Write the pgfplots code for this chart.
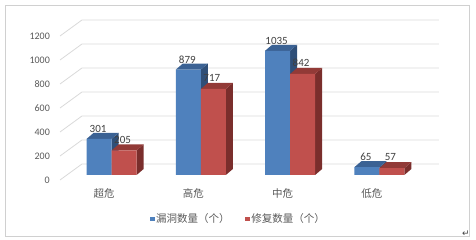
\documentclass[border=0pt]{standalone}
\usepackage{pgfplots}
\pgfplotsset{compat=1.18}
\usepackage{fontspec}
\setmainfont{Carlito}
\newfontfamily\cjk{Noto Sans CJK SC}
\definecolor{bfront}{HTML}{4F81BD}
\definecolor{btop}{HTML}{3B6294}
\definecolor{bside}{HTML}{2F4F78}
\definecolor{rfront}{HTML}{C0504D}
\definecolor{rtop}{HTML}{923A37}
\definecolor{rside}{HTML}{7A2E2C}
\definecolor{gridc}{HTML}{D9D9D9}
\definecolor{labc}{HTML}{595959}
\definecolor{datac}{HTML}{404040}
\definecolor{framec}{HTML}{D0D0D0}

% 3D extras (side and top faces) of a bar: #1 left x, #2 right x, #3 value, #4 top colour, #5 side colour
\newcommand{\barfaces}[5]{%
  \pgfmathsetmacro\xl{#1}\pgfmathsetmacro\xr{#2}%
  \pgfmathsetmacro\xld{#1+0.0784}\pgfmathsetmacro\xrd{#2+0.0784}%
  \pgfmathsetmacro\vt{#3+50}%
  \edef\tmp{%
    \noexpand\addplot[fill=#5,draw=none,forget plot] coordinates {(\xr,0) (\xrd,50) (\xrd,\vt) (\xr,#3)};
    \noexpand\addplot[fill=#4,draw=none,forget plot] coordinates {(\xl,#3) (\xr,#3) (\xrd,\vt) (\xld,\vt)};
  }\tmp}
\newcommand{\gridl}[1]{%
  \pgfmathsetmacro\gb{#1+91.7}\pgfmathsetmacro\gf{#1-41.7}%
  \edef\tmp{%
    \noexpand\addplot[gridc,line width=0.8pt,forget plot] coordinates {(-0.578,\gf) (-0.332,\gb) (3.668,\gb)};
  }\tmp}
\newcommand{\ylab}[2]{\node[anchor=east, text=labc, font=\fontsize{10}{11}\selectfont, inner sep=0pt] at (axis cs:-0.69,#2) {#1};}

\begin{document}
\begin{tikzpicture}
\begin{axis}[
  scale only axis, width=476pt, height=240pt,
  xmin=-1.2504, xmax=4.0829, ymin=-541.67, ymax=1458.33,
  hide axis, clip=false,
  /pgf/number format/1000 sep={},
  /pgf/number format/assume math mode=true,
  legend image code/.code={\fill[#1] (0pt,-2.4pt) rectangle (4.8pt,2.4pt);},
  legend style={draw=none, fill=none, at={(axis cs:1.418,-366)}, anchor=center,
    legend columns=2, font=\cjk\fontsize{10.5}{12}\selectfont, text=labc,
    /tikz/every even column/.append style={column sep=14pt},
    inner sep=0pt, nodes={inner sep=1.5pt}},
]
% frame and bounding box
\draw[framec, line width=0.6pt] (rel axis cs:0.0105,0.0167) rectangle (rel axis cs:0.9853,0.979);
\path (rel axis cs:0,0) (rel axis cs:1,1);
\node[datac, font=\fontsize{9}{10}\selectfont] at (axis cs:3.97,-485) {\fontspec{DejaVu Sans}↵};

% gridlines
\gridl{0}\gridl{200}\gridl{400}\gridl{600}\gridl{800}\gridl{1000}\gridl{1200}

% y tick labels (front plane)
\ylab{0}{-41.7}
\ylab{200}{158.3}
\ylab{400}{358.3}
\ylab{600}{558.3}
\ylab{800}{758.3}
\ylab{1000}{958.3}
\ylab{1200}{1158.3}
% category labels
\node[text=labc, font=\cjk\fontsize{10.5}{12}\selectfont] at (axis cs:-0.084,-154) {超危};
\node[text=labc, font=\cjk\fontsize{10.5}{12}\selectfont] at (axis cs:0.916,-154) {高危};
\node[text=labc, font=\cjk\fontsize{10.5}{12}\selectfont] at (axis cs:1.916,-154) {中危};
\node[text=labc, font=\cjk\fontsize{10.5}{12}\selectfont] at (axis cs:2.916,-154) {低危};

% blue series: 漏洞数量
\barfaces{-0.28}{0}{301}{btop}{bside}
\barfaces{0.72}{1}{879}{btop}{bside}
\barfaces{1.72}{2}{1035}{btop}{bside}
\barfaces{2.72}{3}{65}{btop}{bside}
\addplot[ybar, bar width=25pt, bar shift=-12.5pt, fill=bfront, draw=none,
  nodes near coords, every node near coord/.append style={text=datac, font=\fontsize{11}{12}\selectfont, yshift=5pt, xshift=-13.5pt, inner sep=1pt}]
  coordinates {(0,301) (1,879) (2,1035) (3,65)};
\addlegendentry{漏洞数量（个）}

% red series: 修复数量
\barfaces{0}{0.28}{205}{rtop}{rside}
\barfaces{1}{1.28}{717}{rtop}{rside}
\barfaces{2}{2.28}{842}{rtop}{rside}
\barfaces{3}{3.28}{57}{rtop}{rside}
\addplot[ybar, bar width=25pt, bar shift=12.5pt, fill=rfront, draw=none,
  nodes near coords, every node near coord/.append style={text=datac, font=\fontsize{11}{12}\selectfont, yshift=6pt, xshift=11pt, inner sep=1pt}]
  coordinates {(0,205) (1,717) (2,842) (3,57)};
\addlegendentry{修复数量（个）}
\end{axis}
\end{tikzpicture}
\end{document}
